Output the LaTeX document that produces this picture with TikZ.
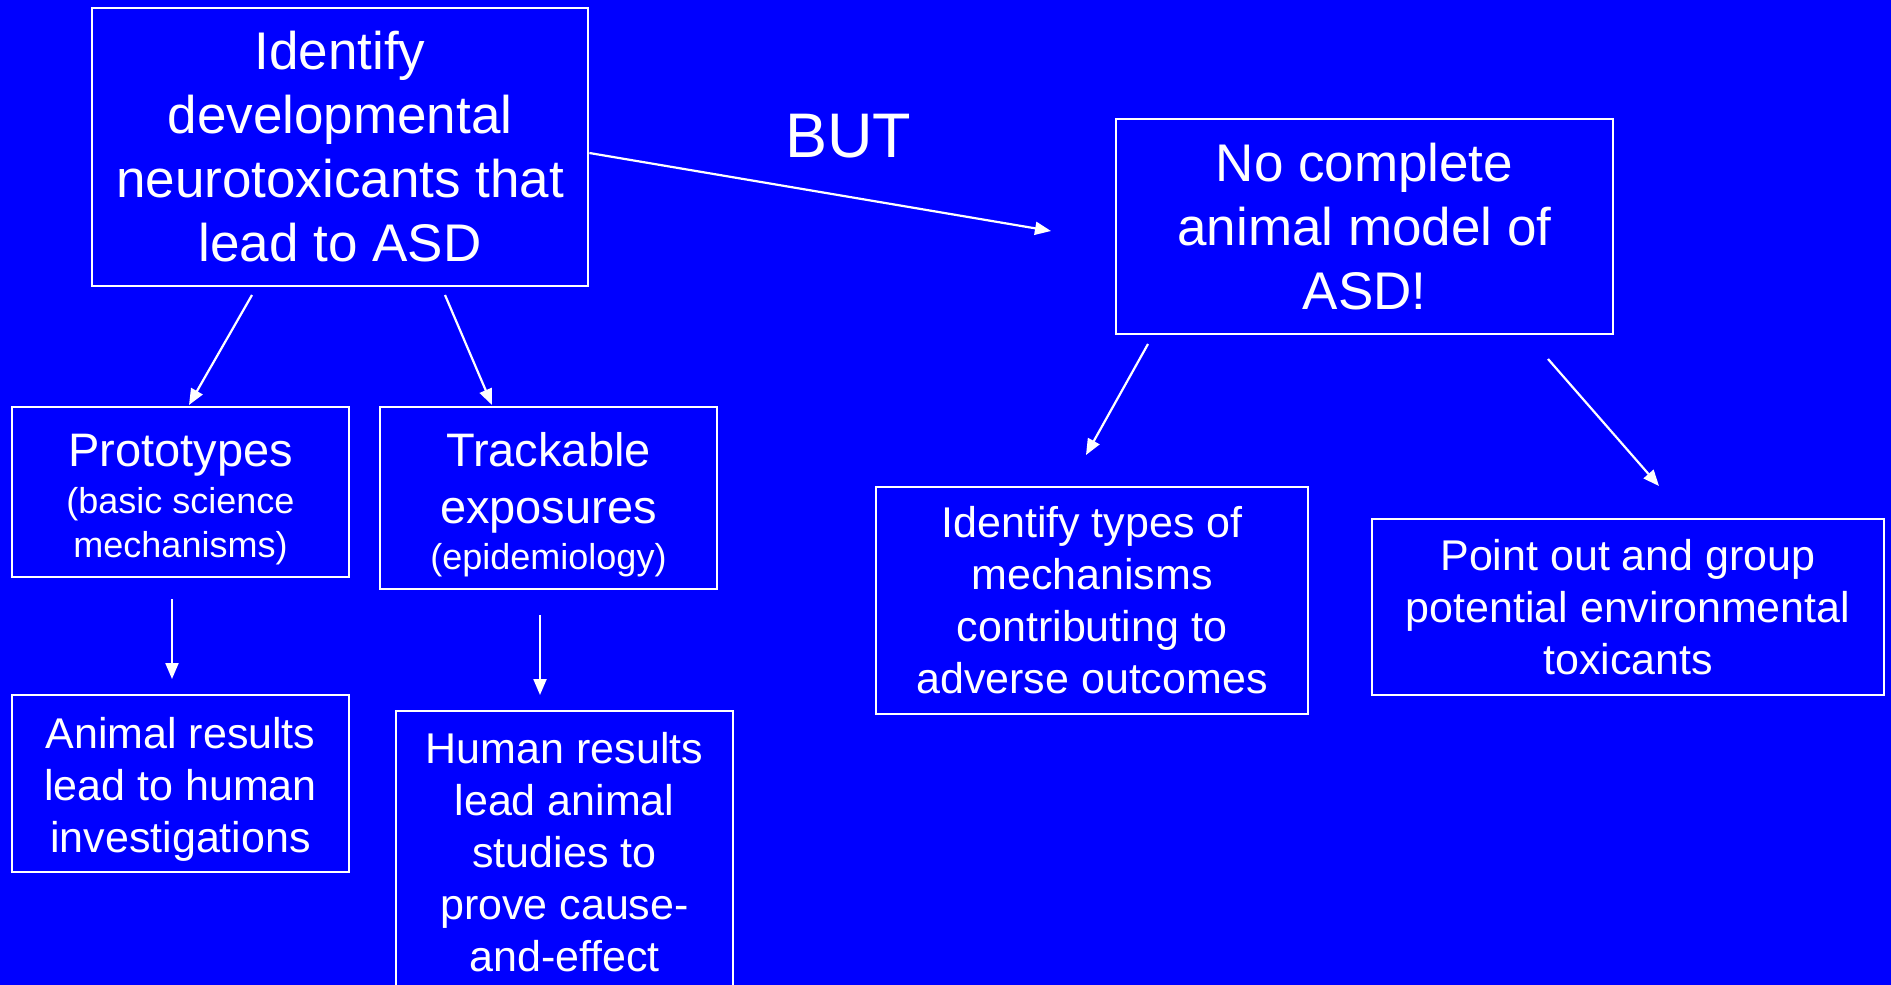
\documentclass[tikz,border=0pt]{standalone}
\usepackage{fontspec}
\setmainfont{Liberation Sans}
\usetikzlibrary{arrows.meta}
\definecolor{slideblue}{RGB}{0,0,255}
\tikzset{
  box/.style={draw=white, line width=2.8pt, text=white, align=center, inner sep=0pt},
  link/.style={draw=white, line width=2.2pt, -{Triangle[length=16pt,width=13pt]}},
  bigtext/.style={font=\fontsize{53}{64}\selectfont},
  midtext/.style={font=\fontsize{43}{52}\selectfont},
  headtext/.style={font=\fontsize{47}{57}\selectfont}
}
\newcommand{\paren}[1]{{\fontsize{36}{43}\selectfont #1}}

\begin{document}
\begin{tikzpicture}[x=1pt,y=-1pt]
\clip (0,0) rectangle (1891,985);
\fill[slideblue] (0,0) rectangle (1891,985);

\node[box, bigtext, minimum width=496pt, minimum height=278pt] (goal) at (340,147)
  {Identify\\developmental\\neurotoxicants that\\lead to ASD};
\node[box, bigtext, minimum width=497pt, minimum height=215pt] (nomodel) at (1364.5,226.5)
  {No complete\\animal model of\\ASD!};
\node[text=white, font=\fontsize{63}{70}\selectfont] (but) at (848,136) {BUT};

\node[box, headtext, minimum width=337pt, minimum height=170pt] (proto) at (180.5,492)
  {\rule{0pt}{48pt}Prototypes\\[-10pt]\paren{(basic science}\\[-13pt]\paren{mechanisms)}};
\node[box, headtext, minimum width=337pt, minimum height=182pt] (track) at (548.5,498)
  {\rule{0pt}{47pt}Trackable\\exposures\\[-11pt]\paren{(epidemiology)}};
\node[box, midtext, minimum width=337pt, minimum height=177pt] (animal) at (180.5,783.5)
  {\rule{0pt}{42pt}Animal results\\lead to human\\investigations};
\node[box, midtext, minimum width=337pt, minimum height=282pt] (human) at (564.5,852)
  {Human results\\lead animal\\studies to\\prove cause-\\and-effect};
\node[box, midtext, minimum width=432pt, minimum height=227pt] (mechs) at (1092,600.5)
  {Identify types of\\mechanisms\\contributing to\\adverse outcomes};
\node[box, midtext, minimum width=512pt, minimum height=176pt] (toxic) at (1628,607)
  {Point out and group\\potential environmental\\toxicants};

\coordinate (goal-l) at (252,295);
\coordinate (proto-in) at (189,405);
\coordinate (goal-r) at (445,295);
\coordinate (track-in) at (492,405);
\coordinate (proto-out) at (172,599);
\coordinate (animal-in) at (172,679);
\coordinate (track-out) at (540,615);
\coordinate (human-in) at (540,695);
\coordinate (nomodel-in) at (1051,231);
\coordinate (nomodel-l) at (1148,344);
\coordinate (mechs-in) at (1086,455);
\coordinate (nomodel-r) at (1548,359);
\coordinate (toxic-in) at (1659,486);

\draw[link] (goal-l) -- (proto-in);
\draw[link] (goal-r) -- (track-in);
\draw[link] (proto-out) -- (animal-in);
\draw[link] (track-out) -- (human-in);
\draw[link] ([yshift=-6pt]goal.east) -- (nomodel-in);
\draw[link] (nomodel-l) -- (mechs-in);
\draw[link] (nomodel-r) -- (toxic-in);
\end{tikzpicture}
\end{document}
